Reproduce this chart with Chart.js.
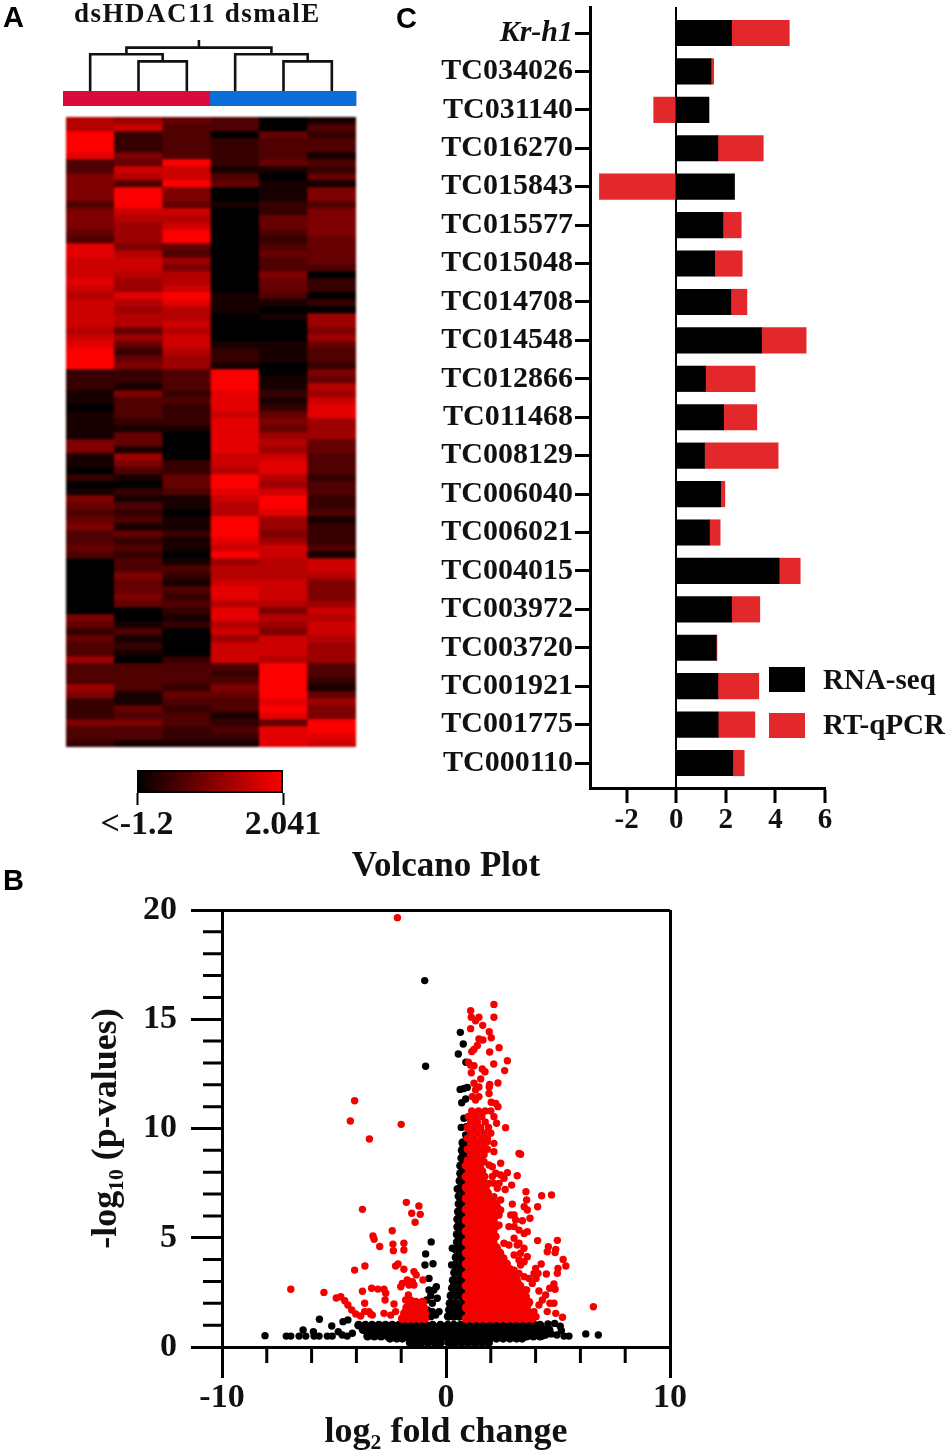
<!DOCTYPE html>
<html>
<head>
<meta charset="utf-8">
<script src="https://cdn.jsdelivr.net/npm/chart.js@4"></script>
<style>
  html, body { margin:0; background:#fff; }
  #page { position:relative; width:950px; height:1456px; overflow:hidden; }
  canvas { position:absolute; left:0; top:0; filter:blur(.45px); }
  #heat { filter:blur(.8px); }
  #bars { top:-50px; }
  .txt { position:absolute; white-space:nowrap; color:#111; font:bold 30px "Liberation Serif"; line-height:1; filter:blur(.4px); }
  .letter { font:bold 29px "Liberation Sans"; color:#000; }
  .swatch { position:absolute; left:769px; width:36px; }
</style>
</head>
<body>
<div id="page">
  <canvas id="dendro" width="950" height="1456"></canvas>
  <canvas id="groups" width="950" height="1456"></canvas>
  <canvas id="heat" width="950" height="1456"></canvas>
  <canvas id="scale" width="950" height="1456"></canvas>
  <canvas id="bars" width="950" height="1456"></canvas>
  <canvas id="volcano" width="950" height="1456"></canvas>

  <div class="txt letter" style="left:3px;top:1px">A</div>
  <div class="txt letter" style="left:3px;top:864px">B</div>
  <div class="txt letter" style="left:396px;top:2px">C</div>
  <div class="txt" style="left:74px;top:0px;font-size:27px;letter-spacing:1.5px">dsHDAC11 dsmalE</div>
  <div class="swatch" id="swatch0" style="top:667px;height:25px"></div>
  <div class="swatch" id="swatch1" style="top:713px;height:25px"></div>
  <div class="txt" id="legend0" style="left:823px;top:665px;font-size:29px"></div>
  <div class="txt" id="legend1" style="left:823px;top:710px;font-size:29px"></div>
</div>

<script>
// ---------- panel A: heatmap, one list per sample, top row first
const heatSamples = ['dsHDAC11-1','dsHDAC11-2','dsHDAC11-3','dsmalE-1','dsmalE-2','dsmalE-3'];
const heat1 = [1.1,1.1,2,2,2,1.7,-.2,-.2,.4,.4,.4,.4,-.2,.4,.4,.4,.1,-.2,1.7,1.7,1.4,1.4,1.4,1.7,1.4,1.1,
  1.4,1.4,1.4,1.4,1.1,1.4,1.7,2,2,2,-.5,-.5,-.5,-.9,-.9,-1.2,-.9,-.9,-.9,-.9,.4,.4,-.9,-.9,-1.2,-.5,-1.2,-.9,.4,.1,-.2,.1,.4,-.2,-.2,.1,
  -.2,-1.2,-1.2,-1.2,-1.2,-1.2,-1.2,-1.2,-1.2,.4,.1,-.5,.1,-.2,-.2,.8,-.2,-.2,-.2,.8,.4,-.5,-.5,-.5,.4,-.2,-.2,-.5];
const heat2 = [.8,1.4,-.5,-.5,-.5,.4,.1,1.4,1.1,-.2,2,2,2,1.4,1.1,.8,.8,.8,.4,1.1,1.4,1.4,1.1,.8,.8,1.7,
  1.1,.8,1.1,1.1,.1,.8,.1,-.5,.1,.4,-.5,-.5,-.9,.4,-.2,-.2,-.2,-.5,-.9,.1,.1,-.9,.8,.4,-.2,-.9,-1.2,-.5,-.9,-.2,-.5,-.2,-.9,.1,-.5,-.2,
  -.5,-.2,-.2,.4,.1,.1,.4,.1,-1.2,-1.2,-.9,-.2,-.9,-.5,-.9,-1.2,-.2,-.2,-.2,-.2,-.9,-.9,.1,-.2,.4,-.2,-.2,-.9];
const heat3 = [.1,-.2,-.2,-.2,-.2,-.2,2,1.4,1.4,2,.4,.4,.1,1.4,1.1,1.4,2,2,.1,-.2,.8,.4,1.1,1.1,1.4,2,
  1.7,1.1,1.1,1.4,1.1,1.4,1.4,1.1,.8,.8,-.2,-.2,-.2,-.5,-.2,-.5,-.5,-.5,-.9,-1.2,-1.2,-1.2,-1.2,-.5,-.5,.1,.1,-.2,-.9,-.9,-1.2,-.9,-.9,-.5,-.9,-.9,
  -1.2,-.9,-.2,-.5,-.9,-.2,-.5,-.2,-.5,-.9,-.5,-1.2,-1.2,-1.2,-1.2,-.5,-.2,-.2,-.2,-.5,.1,-.2,-.5,-.2,-.2,-.5,-.5,-.9];
const heat4 = [-.2,-.2,-1.2,-.5,-.5,-.5,-.5,-.9,-.2,.1,-1.2,-1.2,-.9,-1.2,-1.2,-1.2,-1.2,-1.2,-1.2,-1.2,-1.2,-1.2,-1.2,-1.2,-1.2,-.9,
  -.9,-.9,-1.2,-1.2,-1.2,-1.2,-.9,-.5,-.5,-.9,2,2,2,1.7,1.7,1.7,1.4,1.7,1.7,1.7,1.7,1.7,1.4,1.4,1.1,2,2,1.7,1.4,1.1,1.1,2,2,2,1.7,1.4,
  2,.8,1.1,1.1,1.4,1.7,1.7,1.1,1.7,1.7,1.1,1.4,.8,1.4,1.4,1.4,-.2,-.5,-.2,.4,.1,-.2,-.2,-.9,-.5,-.2,-.5,-.9];
const heat5 = [-1.2,-1.2,.1,-.2,-.2,-.2,.1,-.9,-1.2,-.9,-.9,-.9,-.5,-.5,.1,.1,-.2,-.5,-.2,.1,-.2,-.2,.4,.1,.1,-.2,
  -.9,-1.2,-.9,-1.2,-1.2,-1.2,-.9,-.9,-.9,-1.2,-1.2,-.9,-.9,-.5,-.9,-.5,.1,.4,.1,.8,1.1,.8,1.4,1.7,1.7,1.1,.8,1.4,2,2,1.7,.8,.8,.4,.8,1.4,
  1.4,1.1,1.1,1.1,1.4,1.4,1.4,1.1,.4,1.1,.8,.4,1.4,1.4,1.4,1.1,2,2,2,2,2,1.7,2,1.7,.1,1.7,1.7,1.7];
const heat6 = [-.9,-.2,-.5,-.2,-.2,-.9,-.2,-.5,.1,-.9,.4,.4,-.2,.4,.4,.4,.4,.1,.1,.1,.1,-.2,-1.2,-.5,-.5,-1.2,
  -.5,-1.2,.8,.8,.4,.8,.1,-.2,-.2,-.5,.4,.1,1.1,.8,1.4,1.7,1.7,.8,.8,.8,.1,.1,-.2,-.2,-.2,-.5,-.2,-.2,-.5,-.5,-.2,-.9,-.5,-.5,-.5,-.2,
  -.9,1.4,1.4,1.1,.4,.4,.4,.8,1.4,1.1,1.4,1.4,1.1,.8,.8,.8,-.2,-.2,-.5,-.9,.1,.8,.4,.4,2,2,1.7,1.4];
const heatColumns = [heat1, heat2, heat3, heat4, heat5, heat6];
const heatMin = -1.2;
const heatMax = 2.041;

// dendrogram: [x, height] paths, x counts samples from 0
const treeLinks = [
  [[1,0],[1,.58],[2,.58],[2,0]],
  [[0,0],[0,.72],[1.5,.72],[1.5,.58]],
  [[4,0],[4,.58],[5,.58],[5,0]],
  [[3,0],[3,.72],[4.5,.72],[4.5,.58]],
  [[.75,.72],[.75,.85],[3.75,.85],[3.75,.72]],
  [[2.25,.85],[2.25,1]]
];
const groupNames = ['dsHDAC11','dsmalE'];
const groupSizes = [3,3];

// ---------- panel C: RNA-seq against RT-qPCR
const geneNames = ['Kr-h1','TC034026','TC031140','TC016270','TC015843','TC015577','TC015048','TC014708','TC014548','TC012866',
  'TC011468','TC008129','TC006040','TC006021','TC004015','TC003972','TC003720','TC001921','TC001775','TC000110'];
const rnaSeq = [2.23,1.4,1.32,1.68,2.35,1.88,1.55,2.2,3.44,1.18,1.91,1.14,1.79,1.34,4.15,2.23,1.61,1.68,1.69,2.28];
const rtQpcr = [2.33,.11,-.91,1.83,-3.1,.74,1.11,.65,1.8,2.0,1.34,2.97,.17,.43,.85,1.14,.03,1.65,1.48,.46];
const barXTicks = [-2,0,2,4,6];

// ---------- panel B: volcano plot, log2 fold change against -log10 p
const volcanoXTicks = [-10,0,10];
const volcanoXMinor = [-8,-6,-4,-2,2,4,6,8];
const volcanoYTicks = [0,5,10,15,20];
const volcanoYMinor = [1,2,3,4,6,7,8,9,11,12,13,14,16,17,18,19];

// dense parts, one row per y: [y, x, x, ...]
const redRows = [
  [1.3,.9,1.2,1.5,1.8,2.1,2.4,2.7,3,3.3,3.6,3.85],
  [1.55,1.05,1.35,1.65,1.95,2.25,2.55,2.85,3.15,3.45,3.7],
  [1.8,.9,1.2,1.5,1.8,2.1,2.4,2.7,3,3.3,3.6],
  [2.05,1.05,1.35,1.65,1.95,2.25,2.55,2.85,3.15,3.45,3.7],
  [2.3,.9,1.2,1.5,1.8,2.1,2.4,2.7,3,3.3,3.55],
  [2.55,1.05,1.35,1.65,1.95,2.25,2.55,2.85,3.15,3.45],
  [2.8,.9,1.2,1.5,1.8,2.1,2.4,2.7,3,3.3],
  [3.05,1.05,1.35,1.65,1.95,2.25,2.55,2.85,3.15],
  [3.3,.9,1.2,1.5,1.8,2.1,2.4,2.7,3],
  [3.55,1.05,1.35,1.65,1.95,2.25,2.55,2.85],
  [3.8,.9,1.2,1.5,1.8,2.1,2.4,2.7],
  [4.05,1.05,1.35,1.65,1.95,2.25,2.55],
  [4.3,.9,1.2,1.5,1.8,2.1,2.4],
  [4.55,1.05,1.35,1.65,1.95,2.25],
  [4.8,.9,1.2,1.5,1.8,2.1],
  [5.05,1.05,1.35,1.65,1.95,2.2],
  [5.3,.9,1.2,1.5,1.8,2.1],
  [5.55,1.05,1.35,1.65,1.95,2.25],
  [5.8,.9,1.2,1.5,1.8,2.1],
  [6.05,1.05,1.35,1.65,1.95,2.25],
  [6.3,.9,1.2,1.5,1.8,2.05],
  [6.55,1.05,1.35,1.65,1.9,2.2],
  [6.8,.9,1.2,1.5,1.8,2.05],
  [7.05,1.05,1.35,1.65,1.85],
  [7.3,.9,1.2,1.5,1.75],
  [7.55,1.05,1.35,1.65],
  [7.8,.9,1.2,1.5,1.7],
  [8.05,1.05,1.35,1.6],
  [8.3,.9,1.2,1.5],
  [1.3,-1.95,-1.7,-1.45,-1.2,-.95],
  [1.55,-1.85,-1.6,-1.35,-1.1,-.95],
  [1.8,-1.75,-1.5,-1.25,-1],
  [2.05,-1.6,-1.35,-1.05]
];
const blackRows = [
  [.2,-1.6,-1.35,-1.1,-.8,-.5,-.25,.12,.4,.7,1,1.3,1.6,1.9],
  [.4,-2.5,-2.2,-1.95,-1.65,-1.35,-1.05,-.75,-.45,-.22,.15,.45,.75,1.05,1.35,1.65,1.95,2.25,2.55,2.85,3.15,3.4],
  [.5,-3.5,-3.2,-2.9,-2.6,-2.3,-2,-1.7,-1.4,-1.1,-.8,-.5,-.25,.1,.3,.6,.9,1.2,1.5,1.8,2.1,2.4,2.7,3,3.3,3.6,3.9,4.2],
  [.6,-3.4,-3.1,-2.8,-2.5,-2.2,-1.9,-1.6,-1.3,-1,-.7,-.4,-.2,.1,.4,.7,1,1.3,1.6,1.9,2.2,2.5,2.8,3.1,3.4,3.7,4],
  [.8,-3.7,-3.4,-3.1,-2.8,-2.5,-2.2,-1.9,-1.6,-1.3,-1,-.7,-.4,-.2,.1,.4,.7,1,1.3,1.6,1.9,2.2,2.5,2.8,3.1,3.4,3.7,4,4.3,4.6],
  [1,-3.9,-3.6,-3.3,-3,-2.7,-2.4,-2.1,-1.8,-1.5,-1.2,-.9,-.6,-.25,.08,.35,.65,.95,1.25,1.55,1.85,2.15,2.45,2.75,3.05,3.35,3.65,3.95,4.2],
  [1.4,.1,.35,.6,.85],
  [1.7,.15,.4,.65,.88],
  [2,.18,.42,.65,.88],
  [2.35,.22,.45,.68,.88],
  [2.7,.28,.5,.7,.88],
  [3.05,.32,.55,.75,.88],
  [3.4,.38,.6,.8],
  [3.75,.42,.65,.85],
  [4.1,.45,.65,.85],
  [4.45,.48,.68,.85],
  [4.8,.5,.7,.85],
  [5.15,.5,.7,.85],
  [5.5,.52,.72,.85],
  [5.85,.52,.72,.85],
  [6.2,.55,.72,.85],
  [6.55,.58,.75,.85],
  [6.9,.58,.75],
  [7.25,.6,.8],
  [7.6,.62,.8],
  [7.95,.65,.8],
  [8.3,.65,.82],
  [8.65,.7,.85],
  [9,.72,.85],
  [9.35,.75,.85]
];
// single points read one by one: [x, y]
const redPoints = [
  [.95,8.55],[1.25,8.55],[1.55,8.55],[1.1,8.8],[1.4,8.8],[1.7,8.8],[.95,9.05],[1.25,9.05],[1.55,9.05],[1.85,9.05],[1.1,9.3],[1.4,9.3],[1.7,9.3],
  [.95,9.55],[1.25,9.55],[1.55,9.55],[1.85,9.55],[1.1,9.8],[1.4,9.8],[1.7,9.8],[.95,10.05],[1.25,10.05],[1.55,10.05],[1.9,10.05],[1.1,10.3],[1.4,10.3],[1.75,10.3],
  [1,10.55],[1.3,10.55],[1.6,10.55],[1.15,10.8],[1.45,10.8],[1.75,10.8],[2,10.8],
  [-2.17,19.65],[-4.08,11.27],[-4.27,10.34],[-2,10.19],[-3.42,9.52],
  [2.14,15.68],[1.1,15.39],[1.13,15.09],[1.32,14.93],[1.47,15.09],[2.14,15.09],[1.64,14.72],[1.1,14.57],[1.93,14.43],[2.02,14.15],
  [1.47,14.1],[1.65,14.05],[1.4,13.8],[1.25,13.62],[1.15,13.52],[2.37,13.7],[1.95,13.5],[2.74,13.1],[2.13,12.95],[1,13.03],[1.1,12.9],
  [1.25,12.87],[1.62,12.72],[1.74,12.6],[2.62,12.65],[1.13,12.55],[1.55,12.27],[2.32,12.08],[1.95,12.02],[1.93,11.9],[1.25,12.07],
  [1.47,11.9],[1.32,11.76],[1.92,11.6],[1.17,11.46],[1.32,11.3],[1.47,11.46],[2.02,11.2],[2.22,11.15],[2.32,11],[2.66,10.04],[2.26,10.24],[2.14,10.54],
  [-6.93,2.64],[-5.45,2.5],[-4.9,2.24],[-4.7,2.3],[-4.52,2.12],[-4.38,1.92],[-4.21,1.69],[-4.03,1.51],[-3.81,1.42],[-3.63,1.62],[-3.63,2],[-3.73,2.55],
  [-3.36,1.5],[-4.08,3.52],[-3.62,3.71],[-3.73,6.3],[-3.26,5.08],[-3.21,4.93],[-2.96,4.6],[-2.4,5.32],[-2.37,4.71],[-2.35,4.41],[-1.88,4.75],[-1.88,4.44],
  [-1.77,6.62],[-1.21,6.45],[-1.53,6.12],[-1.15,6.07],[-1.38,5.71],[-2.25,3.71],[-2.14,3.8],[-1.88,3.56],[-1.43,3.45],[-1.33,3.3],[-1.03,3.07],
  [-1.95,2.91],[-2.02,2.76],[-1.73,3.07],[-1.5,2.99],[-1.65,2.84],[-1.43,2.84],[-3.32,2.69],[-3.04,2.65],[-2.77,2.64],[-2.69,2.46],[-2.72,2.15],
  [-1.68,2.38],[-1.58,2.15],[-1.8,2.15],[-2.32,1.97],[-2.25,1.62],[-2.47,1.46],[-2.77,1.54],[-3.44,1.62],[-3.29,1.46],
  [6.58,1.84],[4.71,6.96],[4.27,6.92],[3.57,7.11],[3.6,6.73],[4.09,6.42],[3.49,6.42],[3.63,6.27],[2.96,6.54],[3.75,5.89],[3.41,5.78],[2.89,6.04],[3.04,6.04],
  [3.11,5.81],[2.81,5.51],[3.04,5.51],[3.26,5.35],[3.49,5.2],[3.63,5.28],[4.09,4.87],[4.97,4.88],[4.57,4.59],[4.52,4.36],[4.9,4.47],[4.87,4.32],[5.23,4.01],
  [5.35,3.71],[4.25,3.8],[4,3.6],[3.93,3.37],[4.11,3.37],[3.71,3.14],[4.02,3.14],[3.85,2.91],[4.48,3.34],[5,3.6],[4.97,3.37],[4.82,2.88],[4.63,2.69],[4.87,2.64],
  [4.15,2.56],[3.6,2.61],[4.45,2.38],[4.3,2.15],[4.15,1.92],[3.93,1.62],[3.71,1.39],[4.02,1.39],[4.64,2],[4.82,2],[4.52,1.62],[4.9,1.54],[5.2,1.36],
  [3.26,8.86],[3.33,8.82],[3.18,7.84],[2.93,7.41],[2.44,8.41],[1.7,8.48],[1.92,8.33],[2.07,8.25],[2.14,9.32],[1.84,9.39],[2.14,8.94],[2,9.78],
  [2.74,7.98],[2.44,7.87],[2.22,7.95],[2.07,7.8],[2.59,7.72],[2.37,7.49],[2.29,7.26],[2.64,7.21],[2.14,6.88],[2.44,6.73],[2.29,6.42],[2.44,6.27],
  [2.37,6.04],[2.14,5.89],[2.22,5.51],[2.37,5.58],[2.14,7.49],[1.92,7.49],[2.59,4.75],[2.81,4.67],[3.04,4.98],[3.18,4.67],[3.26,4.75],[3.48,4.52],
  [3.63,4.13],[3.33,4.29],[3.04,4.21],[3.26,3.98],[3.49,3.9],[3.33,3.75],[3.26,3.37],[3.49,3.22],[3.04,3.52],[3.52,2.61],[3.49,2.3]
];
const blackPoints = [
  [-.95,16.77],[-.91,12.85],[.64,14.4],[.77,13.87],[.55,13.41],[.89,13.03],[.63,11.79],[.8,11.83],[.95,11.88],[.7,11.18],[.88,11.35],[.8,10.47],[.68,10.05],[.9,10.08],
  [.88,9.7],[.76,9.24],[.28,4.52],[.43,4.44],[.25,3.75],[.68,7.95],[.5,7.23],
  [-.66,4.81],[-.91,4.26],[-.94,3.75],[-.58,3.81],[-.76,3.14],[-.43,2.76],[-.76,2.61],[-.54,2.61],[-.68,2.35],[-.39,2.23],[-.86,2.15],[-.61,2],[-.83,1.69],[-.61,1.62],
  [-.31,1.62],[-.91,1.39],[-.68,1.39],[-.46,1.46],
  [-8.08,.52],[-7.13,.5],[-6.93,.5],[-6.56,.5],[-6.38,.78],[-6.26,.5],[-5.92,.7],[-5.89,.5],[-5.67,.5],[-5.65,1.27],[-5.1,.96],[-4.6,1.16],[-4.38,1.24],
  [-5.3,.5],[-5.08,.5],[-4.81,.7],[-4.63,.55],[-4.41,.5],[-4.18,.63],
  [5.27,.5],[5.49,.5],[6.24,.6],[6.8,.55],[4.55,1.05],[4.85,1.08],[5.1,.95],[5.15,.75],[4.7,.6],[4.45,.55],[4.95,.55],[4.3,.5]
];

const heatColor = v => {
  const r = Math.max(0, Math.min(1, (v - heatMin) / (heatMax - heatMin)));
  return `rgb(${Math.round(r * 255)},0,0)`;
};
const rowsToPoints = rows => rows.flatMap(([y, ...xs]) => xs.map(x => ({x, y})));
const pairsToPoints = pairs => pairs.map(([x, y]) => ({x, y}));

const serif = (size, style) => ({family:'"Liberation Serif"', size, weight:'bold', style:style || 'normal'});
// every canvas covers the whole page, padding pins the plot area
const pin = (left, top, right, bottom) => ({padding:{left, top, right:950 - right, bottom:1456 - bottom}});
const setTicks = vals => s => { s.ticks = vals.map(value => ({value})); };

Chart.defaults.animation = false;
Chart.defaults.responsive = false;
Chart.defaults.color = '#111';
Chart.defaults.plugins.legend.display = false;
Chart.defaults.plugins.tooltip.enabled = false;

// ---------- heatmap
const heatDatasets = heatColumns[0].map((_, row) => ({
  label: 'row ' + row,
  data: heatColumns.map(() => 1),
  backgroundColor: heatColumns.map(col => heatColor(col[row])),
  borderWidth: 0,
  barPercentage: 1,
  categoryPercentage: 1
}));

new Chart(document.getElementById('heat'), {
  type: 'bar',
  data: { labels: heatSamples, datasets: heatDatasets },
  options: {
    layout: pin(66, 117, 356, 747),
    scales: {
      x: { display:false, stacked:true },
      y: { display:false, stacked:true, reverse:true, min:0, max:heatColumns[0].length }
    }
  },
  plugins: [{
    id: 'seams',
    beforeDatasetsDraw(chart) {
      const a = chart.chartArea;
      chart.ctx.fillStyle = '#400000';
      chart.ctx.fillRect(a.left, a.top, a.right - a.left, a.bottom - a.top);
    }
  }]
});

// ---------- dendrogram
new Chart(document.getElementById('dendro'), {
  type: 'scatter',
  data: {
    datasets: treeLinks.map(link => ({
      data: pairsToPoints(link),
      showLine: true,
      pointRadius: 0,
      borderColor: '#111',
      borderWidth: 2.6,
      clip: false
    }))
  },
  options: {
    layout: pin(66, 40, 356, 91),
    scales: {
      x: { display:false, min:-.5, max:5.5 },
      y: { display:false, min:0, max:1 }
    }
  }
});

// ---------- group colour strip
new Chart(document.getElementById('groups'), {
  type: 'bar',
  data: {
    labels: ['group'],
    datasets: [
      { label:groupNames[0], data:[groupSizes[0]], backgroundColor:'#d90b3c', barPercentage:1, categoryPercentage:1 },
      { label:groupNames[1], data:[groupSizes[1]], backgroundColor:'#0a6ed6', barPercentage:1, categoryPercentage:1 }
    ]
  },
  options: {
    indexAxis: 'y',
    layout: pin(63, 91, 356.5, 106),
    scales: {
      x: { display:false, stacked:true, min:0, max:6 },
      y: { display:false, stacked:true }
    }
  }
});

// ---------- colour key
new Chart(document.getElementById('scale'), {
  type: 'bar',
  data: {
    labels: ['key'],
    datasets: [{
      data: [[heatMin, heatMax]],
      backgroundColor: ctx => {
        const a = ctx.chart.chartArea;
        if (!a) return '#000';
        const g = ctx.chart.ctx.createLinearGradient(a.left, 0, a.right, 0);
        g.addColorStop(0, '#000');
        g.addColorStop(1, '#f00');
        return g;
      },
      borderColor: '#000',
      borderWidth: 2,
      borderSkipped: false,
      barPercentage: 1,
      categoryPercentage: 1
    }]
  },
  options: {
    indexAxis: 'y',
    layout: pin(137, 770, 283, 850),
    scales: {
      y: { display:false },
      x: {
        min: heatMin,
        max: heatMax,
        afterBuildTicks: setTicks([heatMin, heatMax]),
        afterFit: s => { s.height = 57; },
        border: { display:false },
        grid: { drawOnChartArea:false, tickLength:12, tickWidth:2, tickColor:'#000' },
        ticks: {
          padding: 0,
          maxRotation: 0,
          font: serif(34),
          callback: v => v === heatMin ? '<-1.2' : '2.041'
        }
      }
    }
  }
});

// ---------- panel C bars, canvas sits 50px higher so the first label fits
new Chart(document.getElementById('bars'), {
  type: 'bar',
  data: {
    datasets: [
      { label:'RNA-seq', data:rnaSeq.map((x, y) => ({x, y})), backgroundColor:'#000', barThickness:25.5 },
      { label:'RT-qPCR', data:rtQpcr.map((x, y) => ({x, y})), backgroundColor:'#e2282a', barThickness:25.5 }
    ]
  },
  options: {
    indexAxis: 'y',
    layout: pin(400, 57, 825, 898),
    scales: {
      x: {
        stacked: true,
        min: -3.48,
        max: 6,
        afterBuildTicks: setTicks(barXTicks),
        afterFit: s => { s.height = 60; },
        border: { color:'#000', width:3 },
        grid: {
          color: c => c.tick && c.tick.value === 0 ? '#000' : 'transparent',
          lineWidth: 2,
          tickColor: '#000',
          tickWidth: 3,
          tickLength: 15
        },
        ticks: { padding:0, maxRotation:0, font:serif(29), callback:v => String(v) }
      },
      y: {
        type: 'linear',
        offset: false,
        stacked: true,
        reverse: true,
        min: -.677,
        max: 19.65,
        afterBuildTicks: setTicks(geneNames.map((_, i) => i)),
        afterFit: s => { s.width = 190; },
        border: { color:'#000', width:3 },
        grid: { offset:false, drawOnChartArea:false, tickColor:'#000', tickWidth:3, tickLength:15 },
        ticks: {
          padding: 2,
          autoSkip: false,
          font: c => c.index === 0 ? serif(30, 'italic') : serif(30),
          callback: v => geneNames[v]
        }
      }
    }
  }
});

// ---------- volcano plot
const minorTicks = {
  id: 'minorTicks',
  afterDraw(chart) {
    const {ctx, chartArea:a, scales} = chart;
    ctx.save();
    ctx.strokeStyle = '#000';
    ctx.lineWidth = 3;
    ctx.beginPath();
    volcanoXMinor.forEach(v => {
      const px = scales.x.getPixelForValue(v);
      ctx.moveTo(px, a.bottom);
      ctx.lineTo(px, a.bottom + 16);
    });
    volcanoYMinor.forEach(v => {
      const py = scales.y.getPixelForValue(v);
      ctx.moveTo(a.left, py);
      ctx.lineTo(a.left - 19, py);
    });
    ctx.stroke();
    ctx.restore();
  }
};

new Chart(document.getElementById('volcano'), {
  type: 'scatter',
  data: {
    datasets: [
      { label:'significant', data:pairsToPoints(redPoints), backgroundColor:'#f40000', pointRadius:3.7, pointBorderWidth:0 },
      { label:'significant, dense', data:rowsToPoints(redRows), backgroundColor:'#f40000', pointRadius:4.5, pointBorderWidth:0 },
      { label:'not significant', data:pairsToPoints(blackPoints), backgroundColor:'#000', pointRadius:3.7, pointBorderWidth:0 },
      { label:'not significant, dense', data:rowsToPoints(blackRows), backgroundColor:'#000', pointRadius:4.4, pointBorderWidth:0 }
    ]
  },
  options: {
    layout: { padding:{ left:85, top:846, right:950 - 670, bottom:0 } },
    plugins: {
      title: {
        display: true,
        text: 'Volcano Plot',
        fullSize: false,
        font: serif(35),
        color: '#111',
        padding: { top:0, bottom:22 }
      }
    },
    scales: {
      x: {
        min: -10,
        max: 10,
        afterBuildTicks: setTicks(volcanoXTicks),
        afterFit: s => { s.height = 1456 - 1347; },
        border: { color:'#000', width:3 },
        grid: {
          color: c => c.tick && c.tick.value === 10 ? '#000' : 'transparent',
          lineWidth: 3,
          tickColor: '#000',
          tickWidth: 3,
          tickLength: 31
        },
        ticks: { padding:0, maxRotation:0, font:serif(34), callback:v => String(v) },
        title: { display:true, text:'log₂ fold change', font:serif(36), color:'#111', padding:{ top:0, bottom:2 } }
      },
      y: {
        min: 0,
        max: 20,
        afterBuildTicks: setTicks(volcanoYTicks),
        afterFit: s => { s.width = 222 - 85; },
        border: { color:'#000', width:3 },
        grid: {
          color: c => c.tick && c.tick.value === 20 ? '#000' : 'transparent',
          lineWidth: 3,
          tickColor: '#000',
          tickWidth: 3,
          tickLength: 31
        },
        ticks: { padding:14, font:serif(34), callback:v => String(v) },
        title: { display:true, text:'-log₁₀ (p-values)', font:serif(36), color:'#111', padding:0 }
      }
    }
  },
  plugins: [minorTicks]
});

// ---------- legend of panel C
['#000', '#e2282a'].forEach((color, i) => {
  document.getElementById('swatch' + i).style.background = color;
  document.getElementById('legend' + i).textContent = ['RNA-seq', 'RT-qPCR'][i];
});
</script>
</body>
</html>
